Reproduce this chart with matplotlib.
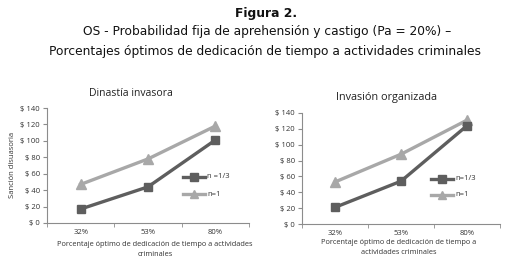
import numpy as np
import matplotlib
matplotlib.use("Agg")
import matplotlib.pyplot as plt

categories = ["32%", "53%", "80%"]
yticks = [0, 20, 40, 60, 80, 100, 120, 140]
ytick_labels = ["$ %d" % v for v in yticks]

left_title = "Dinastía invasora"
left_third = [17, 44, 101]
left_one = [47, 78, 118]

right_title = "Invasión organizada"
right_third = [21, 54, 124]
right_one = [53, 88, 131]

W, H = 511, 272
fig = plt.figure(figsize=(W / 100, H / 100), dpi=100)
fig.patch.set_facecolor("white")

font = "Open Sans"
dark = "#5e5e5e"
light = "#a8a8a8"
axis_col = "#8c8c8c"
txt = "#333333"


def px(x, y):
    return x / W, 1 - y / H


def panel(rect, s1, s2, lab1, leg_y1, leg_y2, leg_x):
    ax = fig.add_axes(rect)
    x = np.arange(len(categories))
    ax.plot(x, s1, color=dark, lw=2.4, marker="s", ms=6, zorder=3)
    ax.plot(x, s2, color=light, lw=2.4, marker="^", ms=6.5, zorder=2)
    ax.set_xlim(-0.5, 2.5)
    ax.set_ylim(0, 140)
    ax.set_yticks(yticks)
    ax.set_yticklabels(ytick_labels, fontsize=5.5, family=font, color=txt)
    ax.set_xticks(x)
    ax.set_xticklabels(categories, fontsize=5.5, family=font, color=txt)
    ax.tick_params(axis="x", which="major", length=0, pad=4)
    ax.set_xticks([-0.5, 0.5, 1.5, 2.5], minor=True)
    ax.tick_params(axis="x", which="minor", length=3, color=axis_col, direction="out")
    ax.tick_params(axis="y", length=3, color=axis_col, pad=2)
    for s in ["top", "right"]:
        ax.spines[s].set_visible(False)
    for s in ["left", "bottom"]:
        ax.spines[s].set_color(axis_col)
        ax.spines[s].set_linewidth(0.8)
    ax.set_facecolor("none")
    # legend drawn by hand in figure pixel coords
    for yy, col, mk, lab in [(leg_y1, dark, "s", lab1), (leg_y2, light, "^", "n=1")]:
        x0, y0 = px(leg_x, yy)
        x1, _ = px(leg_x + 22, yy)
        fig.add_artist(plt.Line2D([x0, x1], [y0, y0], color=col, lw=2.4,
                                  transform=fig.transFigure))
        fig.add_artist(plt.Line2D([(x0 + x1) / 2], [y0], color=col, marker=mk, ms=6,
                                  transform=fig.transFigure))
        fig.text(x1 + 2 / W, y0, lab, fontsize=5.5, family=font, color=txt,
                 va="center", ha="left")
    return ax


axl = panel([47 / W, (H - 223) / H, 202 / W, 115 / H],
            left_third, left_one, "n =1/3", 177, 194, 183)
axr = panel([302 / W, (H - 224) / H, 198 / W, 111 / H],
            right_third, right_one, "n=1/3", 179, 195, 431)

# titles of panels
fig.text(*px(131, 93), left_title, fontsize=7.5, family=font, ha="center", va="center", color="#222222")
fig.text(*px(386, 97), right_title, fontsize=7.8, family=font, ha="center", va="center", color="#222222")

fig.text(*px(13, 165), "Sanción disuasoria", fontsize=5.5, family=font, rotation=90,
         ha="center", va="center", color=txt)
fig.text(*px(155, 244), "Porcentaje óptimo de dedicación de tiempo a actividades",
         fontsize=5.3, family=font, ha="center", va="center", color=txt)
fig.text(*px(155, 254), "criminales", fontsize=5.3, family=font, ha="center", va="center", color=txt)
fig.text(*px(399, 243), "Porcentaje óptimo de dedicación de tiempo a",
         fontsize=5.3, family=font, ha="center", va="center", color=txt)
fig.text(*px(399, 253), "actividades criminales", fontsize=5.3, family=font,
         ha="center", va="center", color=txt)

# header
fig.text(*px(266, 13), "Figura 2.", fontsize=8.8, family="DejaVu Sans", weight="bold",
         ha="center", va="center", color="#111111")
fig.text(*px(267, 31), "OS - Probabilidad fija de aprehensión y castigo (Pa = 20%) –",
         fontsize=8.8, family="DejaVu Sans", ha="center", va="center", color="#111111")
fig.text(*px(265, 51), "Porcentajes óptimos de dedicación de tiempo a actividades criminales",
         fontsize=8.8, family="DejaVu Sans", ha="center", va="center", color="#111111")

fig.savefig("out.png", dpi=100, facecolor="white")
